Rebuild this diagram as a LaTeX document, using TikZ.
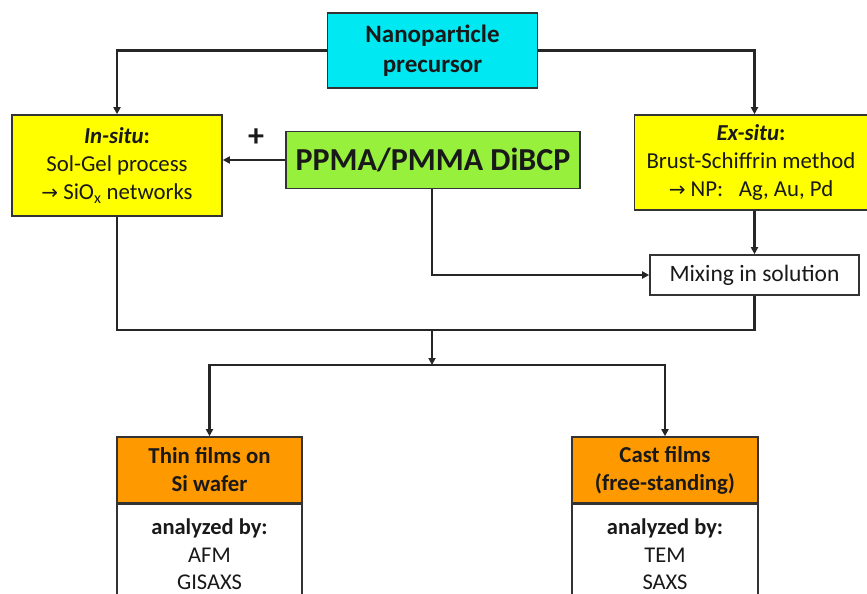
\documentclass[tikz,border=0pt]{standalone}
\usepackage{fontspec}
\setmainfont{Carlito}
\newfontfamily\dvs{DejaVu Sans}
\usetikzlibrary{arrows.meta,calc}
\definecolor{npcyan}{RGB}{0,232,242}
\definecolor{ylw}{RGB}{255,255,0}
\definecolor{grn}{RGB}{150,240,60}
\definecolor{org}{RGB}{255,153,0}
\tikzset{
  box/.style={draw=black!80, line width=1.6pt, rectangle, align=center, inner sep=0pt, text=black!90},
  conn/.style={line width=2.2pt, black!85},
  arr/.style={conn, -{Triangle[length=7pt,width=7pt]}},
}
\begin{document}
\begin{tikzpicture}[x=1pt,y=-1pt]
\useasboundingbox (0,0) rectangle (867,594);
\clip (0,0) rectangle (867,594);
\node[box, fill=npcyan, minimum width=210, minimum height=75, font=\fontsize{25}{30}\selectfont\bfseries] (np) at (432.5,50.5) {Nanoparticle\\precursor};
\node[box, fill=ylw, minimum width=210, minimum height=101, font=\fontsize{22.8}{28}\selectfont] (insitu) at (117,165.5) {\textbf{\textit{In-situ}:}\\Sol-Gel process\\{\dvs\fontsize{20}{28}\selectfont →} SiO\textsubscript{x} networks};
\node[box, fill=grn, minimum width=294, minimum height=57, font=\fontsize{32}{36}\selectfont\bfseries] (ppma) at (433,160) {PPMA/PMMA DiBCP};
\node[font=\fontsize{32}{34}\selectfont\bfseries, text=black!90] (plus) at (256,138) {+};
\node[box, fill=ylw, minimum width=233, minimum height=95, font=\fontsize{22.8}{28}\selectfont] (exsitu) at (751,162.5) {\textbf{\textit{Ex-situ}:}\\Brust-Schiffrin method\\{\dvs\fontsize{20}{28}\selectfont →} NP:\ \ \ Ag, Au, Pd};
\node[box, fill=white, minimum width=209, minimum height=40, font=\fontsize{23.5}{26}\selectfont] (mix) at (754.5,275) {Mixing in solution};
\node[box, fill=org, minimum width=185, minimum height=66, font=\fontsize{22.8}{28}\selectfont\bfseries] (thin) at (209.5,470) {Thin films on\\Si wafer};
\node[box, fill=white, minimum width=185, minimum height=100, font=\fontsize{22.5}{27.5}\selectfont, anchor=north] (thinb) at (thin.south) {\textbf{analyzed by:}\\AFM\\GISAXS};
\node[box, fill=org, minimum width=186, minimum height=66, font=\fontsize{22.8}{28}\selectfont\bfseries] (cast) at (665,470) {Cast films\\(free-standing)};
\node[box, fill=white, minimum width=186, minimum height=100, font=\fontsize{22.5}{27.5}\selectfont, anchor=north] (castb) at (cast.south) {\textbf{analyzed by:}\\TEM\\SAXS};
\coordinate (j) at (432,330);
\coordinate (k) at (432,365);
\draw[arr] (np.west) -| (insitu.north);
\draw[arr] (np.east) -| (exsitu.north -| mix.north);
\draw[arr] (ppma.west) -- (ppma.west -| insitu.east);
\draw[arr] (exsitu.south -| mix.north) -- (mix.north);
\draw[arr] (ppma.south -| j) |- (mix.west);
\draw[conn] (insitu.south) |- (mix.south |- j) -- (mix.south);
\draw[arr] (j) -- (k);
\draw[arr] (k) -| (thin.north);
\draw[arr] (k) -| (cast.north);
\end{tikzpicture}
\end{document}
